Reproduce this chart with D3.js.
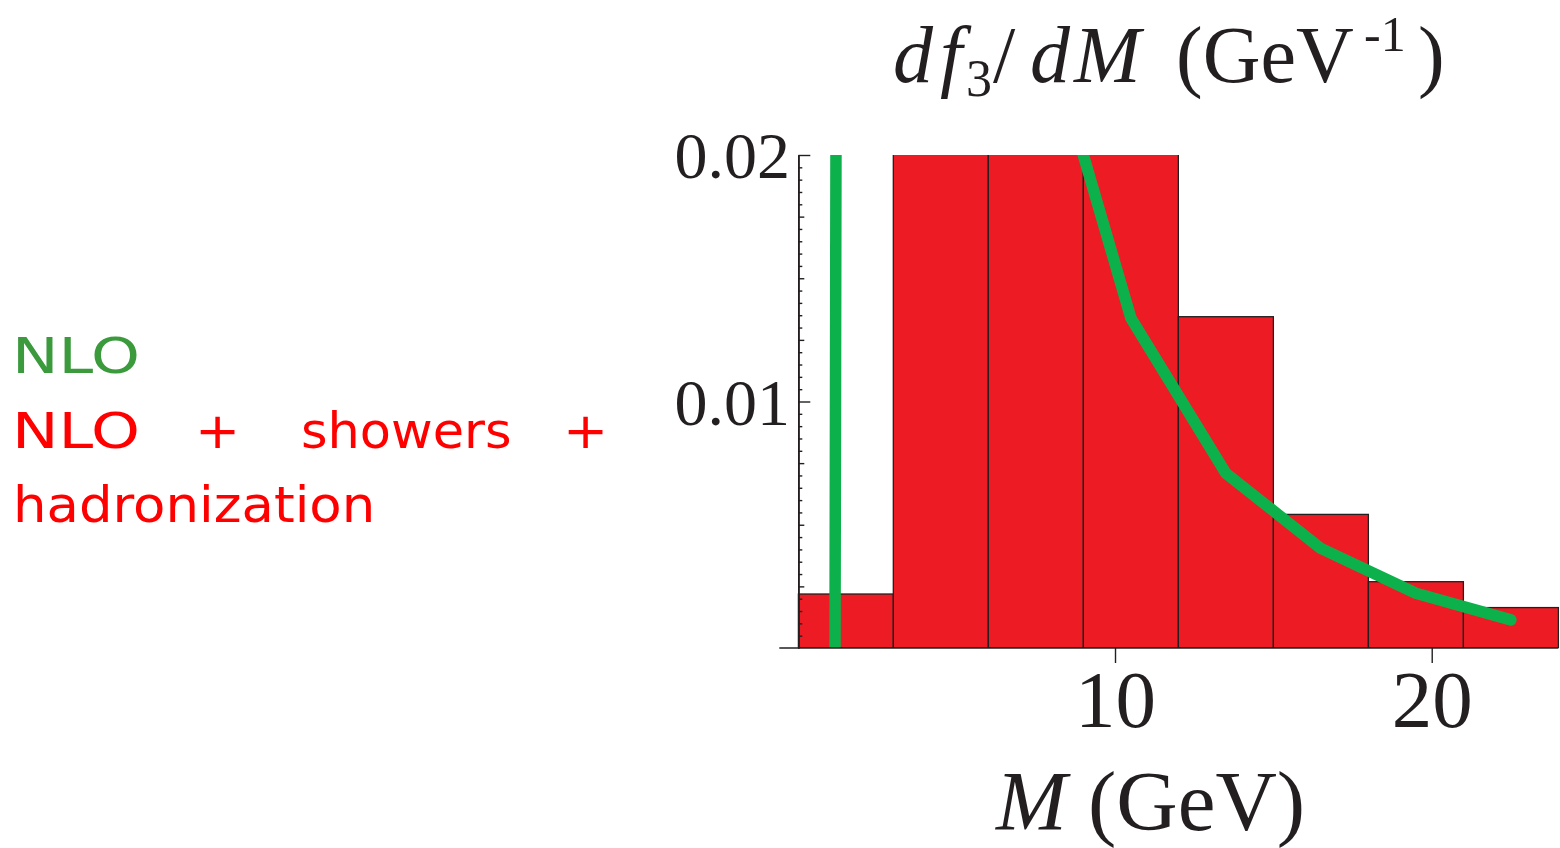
<!DOCTYPE html>
<html>
<head>
<meta charset="utf-8">
<script src="https://cdn.jsdelivr.net/npm/d3@7"></script>
<style>
  html, body { margin: 0; padding: 0; background: #fff; }
  svg { display: block; }
</style>
</head>
<body>
<svg id="chart" width="1560" height="848"></svg>
<script>
// Histogram of the three-jet fraction derivative, NLO + showers + hadronization
const binEdges = [0, 3, 6, 9, 12, 15, 18, 21, 24];
const histValues = [0.00219, 0.045, 0.032, 0.021, 0.01344, 0.00542, 0.00269, 0.00164];

// NLO curve (points outside the visible window are clipped)
const nloM = [-1.5, 1.5, 4.5, 7.5, 10.5, 13.5, 16.5, 19.5, 22.5];
const nloValues = [-1.77, 0.227, 0.06, 0.0266, 0.01339, 0.00709, 0.00404, 0.00222, 0.00114];

// Axis ticks
const xTickValues = [10, 20];
const xTickLabels = ["10", "20"];
const yTickValues = [0.01, 0.02];
const yTickLabels = ["0.01", "0.02"];

const svg = d3.select("#chart");
const serif = "'Liberation Serif', 'DejaVu Serif', serif";
const sans = "'DejaVu Sans', sans-serif";
const ink = "#231f20";

const x = d3.scaleLinear().domain([0, 24]).range([798.3, 1558.4]);
const y = d3.scaleLinear().domain([0, 0.02]).range([648, 155]);

svg.append("defs").append("clipPath").attr("id", "plotClip")
  .append("rect")
  .attr("x", x(0) - 1).attr("y", y(0.02))
  .attr("width", x(24) - x(0) + 3).attr("height", y(0) - y(0.02));

const plot = svg.append("g").attr("clip-path", "url(#plotClip)");

// histogram bars
const bins = histValues.map((v, i) => ({ lo: binEdges[i], hi: binEdges[i + 1], v }));
plot.selectAll("rect.bar").data(bins).join("rect")
  .attr("class", "bar")
  .attr("x", d => x(d.lo))
  .attr("y", d => y(d.v))
  .attr("width", d => x(d.hi) - x(d.lo))
  .attr("height", d => y(0) - y(d.v))
  .attr("fill", "#ed1c24")
  .attr("stroke", ink)
  .attr("stroke-width", 1.3);

// NLO line
const pts = nloM.map((m, i) => [m, nloValues[i]]);
plot.append("path")
  .datum(pts)
  .attr("d", d3.line().x(d => x(d[0])).y(d => y(d[1])))
  .attr("fill", "none")
  .attr("stroke", "#0db14b")
  .attr("stroke-width", 11.5)
  .attr("stroke-linejoin", "round")
  .attr("stroke-linecap", "round");

// y axis: minor, medium and major ticks pointing inward
const yAxisG = svg.append("g").attr("transform", `translate(${x(0)},0)`);
const minorTicks = d3.range(1, 40).map(k => k * 0.0005).filter(v => Math.abs(v / 0.0025 - Math.round(v / 0.0025)) > 1e-6);
const mediumTicks = d3.range(1, 8).map(k => k * 0.0025).filter(v => Math.abs(v / 0.01 - Math.round(v / 0.01)) > 1e-6);

yAxisG.append("g").call(d3.axisRight(y).tickValues(minorTicks).tickSize(4).tickSizeOuter(0).tickFormat(""));
yAxisG.append("g").call(d3.axisRight(y).tickValues(mediumTicks).tickSize(6).tickSizeOuter(0).tickFormat(""));
yAxisG.append("g").call(d3.axisRight(y).tickValues(yTickValues).tickSize(12).tickSizeOuter(0).tickFormat(""));
yAxisG.selectAll("path.domain, .tick line").attr("stroke", ink).attr("stroke-width", 1.4);

svg.append("g").selectAll("text").data(yTickValues).join("text")
  .attr("x", 790)
  .attr("y", d => y(d) + 23)
  .attr("text-anchor", "end")
  .attr("font-family", serif)
  .attr("font-size", 66)
  .attr("fill", ink)
  .text((d, i) => yTickLabels[i]);

// x axis
const xAxisG = svg.append("g").attr("transform", `translate(0,${y(0)})`)
  .call(d3.axisBottom(x).tickValues(xTickValues).tickSize(15).tickSizeOuter(0)
    .tickFormat((d, i) => xTickLabels[i]));
xAxisG.select("path.domain").remove();
xAxisG.selectAll(".tick line").attr("stroke", ink).attr("stroke-width", 1.4);
xAxisG.selectAll(".tick text")
  .attr("y", 79).attr("dy", 0)
  .attr("font-family", serif)
  .attr("font-size", 81)
  .attr("fill", ink);

svg.append("line")
  .attr("x1", x(0) - 19).attr("x2", x(24))
  .attr("y1", y(0)).attr("y2", y(0))
  .attr("stroke", ink).attr("stroke-width", 1.6);

// title: df3/dM (GeV^-1)
const title = svg.append("text")
  .attr("y", 82)
  .attr("font-family", serif)
  .attr("font-size", 80)
  .attr("fill", ink);
title.append("tspan").attr("x", 893).attr("font-style", "italic").text("d");
title.append("tspan").attr("x", 940).attr("font-style", "italic").text("f");
title.append("tspan").attr("x", 966).attr("dy", 14).attr("font-size", 52).text("3");
title.append("tspan").attr("x", 993).attr("dy", -14).text("/");
title.append("tspan").attr("x", 1030).attr("font-style", "italic").text("d");
title.append("tspan").attr("x", 1074).attr("font-style", "italic").text("M");
title.append("tspan").attr("x", 1176).text("(GeV");
title.append("tspan").attr("x", 1364).attr("dy", -31).attr("font-size", 50).text("-1");
title.append("tspan").attr("x", 1418).attr("dy", 31).text(")");

// x-axis label: M (GeV)
const xLabel = svg.append("text")
  .attr("y", 830)
  .attr("font-family", serif)
  .attr("font-size", 85)
  .attr("fill", ink);
xLabel.append("tspan").attr("x", 996).attr("font-style", "italic").text("M");
xLabel.append("tspan").attr("x", 1088).text("(GeV)");

// legend
const legendSize = 49;
function legendWord(txt, xPos, yPos, color, stretch) {
  svg.append("text")
    .attr("transform", `translate(${xPos},${yPos}) scale(${stretch},1)`)
    .attr("font-family", sans)
    .attr("font-size", legendSize)
    .attr("fill", color)
    .text(txt);
}
legendWord("NLO", 12, 373, "#3a9a3c", 1.27);
legendWord("NLO", 12, 448, "#ff0000", 1.27);
legendWord("+", 195, 448, "#ff0000", 1.1);
legendWord("showers", 301, 448, "#ff0000", 1.04);
legendWord("+", 563, 448, "#ff0000", 1.1);
legendWord("hadronization", 13, 522, "#ff0000", 1.08);
</script>
</body>
</html>
